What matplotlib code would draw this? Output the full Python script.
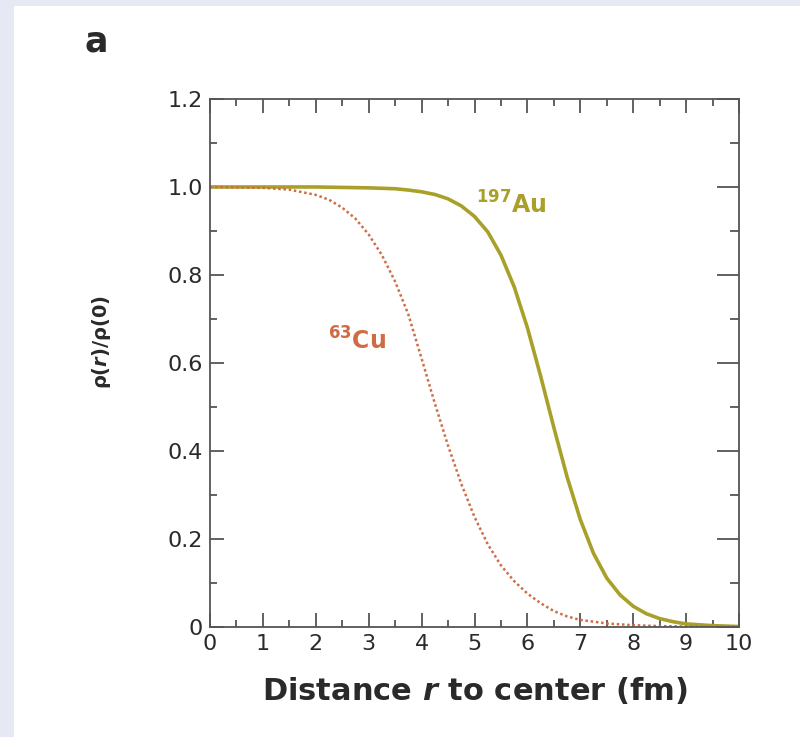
import matplotlib
matplotlib.use('Agg')
import matplotlib.pyplot as plt
from matplotlib.patches import Rectangle
from matplotlib.ticker import MultipleLocator

plt.rcParams['font.family'] = ['DejaVu Sans']
plt.rcParams['mathtext.fontset'] = 'custom'
plt.rcParams['mathtext.bfit'] = 'DejaVu Sans:italic:bold'
plt.rcParams['mathtext.it'] = 'DejaVu Sans:italic:bold'
plt.rcParams['mathtext.rm'] = 'DejaVu Sans'
plt.rcParams['mathtext.bf'] = 'DejaVu Sans:bold'

# radial distance (fm) and normalised densities
r_au = [0, 1, 2, 3, 3.5, 3.75, 4, 4.25, 4.5, 4.75, 5, 5.25, 5.5, 5.75, 6,
        6.25, 6.5, 6.75, 7, 7.25, 7.5, 7.75, 8, 8.25, 8.5, 8.75, 9, 9.25,
        9.5, 10]
rho_au = [1.0, 1.0, 1.0, 0.998, 0.996, 0.993, 0.989, 0.983, 0.973, 0.957,
          0.933, 0.898, 0.845, 0.773, 0.680, 0.570, 0.453, 0.341, 0.244,
          0.167, 0.111, 0.073, 0.047, 0.030, 0.019, 0.012, 0.007, 0.005,
          0.003, 0.001]

r_cu = [0, 0.5, 1, 1.5, 2, 2.25, 2.5, 2.75, 3, 3.25, 3.5, 3.75, 4, 4.25,
        4.5, 4.75, 5, 5.25, 5.5, 5.75, 6, 6.25, 6.5, 6.75, 7, 7.5, 8, 8.5,
        9, 10]
rho_cu = [1.0, 0.999, 0.998, 0.994, 0.982, 0.971, 0.953, 0.928, 0.892,
          0.845, 0.785, 0.710, 0.610, 0.508, 0.412, 0.325, 0.250, 0.188,
          0.140, 0.104, 0.076, 0.054, 0.036, 0.024, 0.016, 0.008, 0.004,
          0.002, 0.001, 0.0]

au_color = '#a9a02a'
cu_color = '#cf6c45'
ink = '#2a2a2a'

fig = plt.figure(figsize=(8, 7.37), dpi=100)
fig.patch.set_facecolor('#e6e8f4')
fig.patches.append(Rectangle((0.0175, 0), 1, 0.992, transform=fig.transFigure,
                             facecolor='white', edgecolor='none', zorder=-5))

ax = fig.add_axes([0.2625, 0.1493, 0.6613, 0.7164])
ax.set_facecolor('white')

ax.plot(r_au, rho_au, color=au_color, lw=2.6, solid_capstyle='butt')
ax.plot(r_cu, rho_cu, color=cu_color, lw=1.8, linestyle=(0, (1, 1.1)))

ax.set_xlim(0, 10)
ax.set_ylim(0, 1.2)
ax.xaxis.set_major_locator(MultipleLocator(1))
ax.xaxis.set_minor_locator(MultipleLocator(0.5))
ax.yaxis.set_minor_locator(MultipleLocator(0.1))
ax.set_yticks([0, 0.2, 0.4, 0.6, 0.8, 1.0, 1.2])
ax.set_yticklabels(['0', '0.2', '0.4', '0.6', '0.8', '1.0', '1.2'])

for s in ax.spines.values():
    s.set_color('#555555')
    s.set_linewidth(1.3)

ax.tick_params(which='both', direction='in', top=True, right=False,
               color='#555555', width=1.3, labelsize=16, labelcolor=ink)
ax.tick_params(which='major', length=10, pad=5)
ax.tick_params(which='minor', length=5)

right = ax.secondary_yaxis('right')
right.yaxis.set_major_locator(MultipleLocator(0.2))
right.yaxis.set_minor_locator(MultipleLocator(0.1))
right.tick_params(which='both', direction='in', color='#555555', width=1.3,
                  labelright=False)
right.tick_params(which='major', length=16)
right.tick_params(which='minor', length=6.5)
right.spines['right'].set_visible(False)

ax.set_xlabel('Distance $\\mathbfit{r}$ to center (fm)', fontsize=22,
              fontweight='bold', color=ink, labelpad=15)
ax.set_ylabel('ρ($\\mathbfit{r}$)/ρ(0)', fontsize=14, fontweight='bold',
              color=ink)
ax.yaxis.set_label_coords(-0.183, 0.54)

ax.text(5.02, 0.94, '$^{\\mathbf{197}}$Au', color=au_color, fontsize=17,
        fontweight='bold')
ax.text(2.23, 0.63, '$^{\\mathbf{63}}$Cu', color=cu_color, fontsize=17,
        fontweight='bold')

fig.text(0.105, 0.93, 'a', fontsize=25, fontweight='bold', color=ink)

fig.savefig('out.png', dpi=100, facecolor=fig.get_facecolor())
